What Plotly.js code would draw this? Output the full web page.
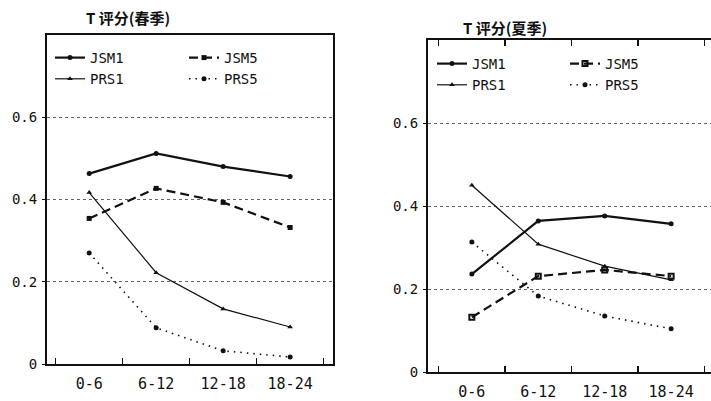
<!DOCTYPE html>
<html><head><meta charset="utf-8">
<script src="https://cdn.plot.ly/plotly-3.0.1.min.js"></script>
<style>html,body{margin:0;padding:0;background:#fff}#c{width:711px;height:401px}</style>
</head><body><div id="c"></div>
<script>
const categories = ["0-6", "6-12", "12-18", "18-24"];
const seriesNames = ["JSM1", "JSM5", "PRS1", "PRS5"];
// Spring (春季)
const springJSM1 = [0.463, 0.512, 0.480, 0.456];
const springJSM5 = [0.354, 0.427, 0.393, 0.332];
const springPRS1 = [0.417, 0.222, 0.134, 0.090];
const springPRS5 = [0.270, 0.088, 0.032, 0.017];
// Summer (夏季)
const summerJSM1 = [0.236, 0.364, 0.376, 0.357];
const summerJSM5 = [0.132, 0.231, 0.246, 0.231];
const summerPRS1 = [0.450, 0.308, 0.255, 0.222];
const summerPRS5 = [0.313, 0.183, 0.135, 0.104];
const yTickVals = [0, 0.2, 0.4, 0.6];
const yTickText = ["0", "0.2", "0.4", "0.6"];
const titles = ["T 评分(春季)", "T 评分(夏季)"];

const styles = {
  JSM1: {line: {color: "#111", width: 2.2, dash: "solid"}, marker: {symbol: "circle", size: 5, color: "#111"}},
  JSM5: {line: {color: "#111", width: 2.2, dash: "9px,5px"}, marker: {symbol: "square", size: 5, color: "#111"}},
  PRS1: {line: {color: "#111", width: 1.2, dash: "solid"}, marker: {symbol: "triangle-up", size: 5, color: "#111"}},
  PRS5: {line: {color: "#111", width: 1.6, dash: "1.5px,5px"}, marker: {symbol: "circle", size: 5, color: "#111"}}
};
const legendOf = {JSM1: "a", JSM5: "b", PRS1: "a", PRS5: "b"};

function mk(name, ys, xa, ya, side) {
  const lg = side === "L" ? (legendOf[name] === "a" ? "legend" : "legend2")
                          : (legendOf[name] === "a" ? "legend3" : "legend4");
  const st = styles[name];
  let marker = Object.assign({}, st.marker);
  if (side === "R" && name === "JSM5") marker = {symbol: "square-open", size: 5, color: "#111", line: {width: 2, color: "#111"}};
  return {x: categories, y: ys, name: name, type: "scatter", mode: "lines+markers",
          xaxis: xa, yaxis: ya, line: st.line, marker: marker, legend: lg};
}

const data = [
  mk("JSM1", springJSM1, "x", "y", "L"),
  mk("PRS1", springPRS1, "x", "y", "L"),
  mk("JSM5", springJSM5, "x", "y", "L"),
  mk("PRS5", springPRS5, "x", "y", "L"),
  mk("JSM1", summerJSM1, "x2", "y2", "R"),
  mk("PRS1", summerPRS1, "x2", "y2", "R"),
  mk("JSM5", summerJSM5, "x2", "y2", "R"),
  mk("PRS5", summerPRS5, "x2", "y2", "R")
];

const yFont = {family: "DejaVu Sans Mono, monospace", size: 14, color: "#111"};
const xFont = {family: "DejaVu Sans Mono, monospace", size: 15, color: "#111"};
const legFont = {family: "DejaVu Sans Mono, monospace", size: 14, color: "#111"};
function xax(domain, range, mirror) {
  return {domain: domain, range: range, type: "category", tickson: "boundaries",
    ticks: "inside", ticklen: 6, tickwidth: 1.5, tickcolor: "#111",
    showline: true, linewidth: 2, linecolor: "#111", mirror: mirror,
    showgrid: false, zeroline: false, tickfont: xFont, ticklabelstandoff: 5, fixedrange: true};
}
function yax(domain, anchor, mirror) {
  return {domain: domain, range: [0, 0.8], anchor: anchor, tickvals: yTickVals, ticktext: yTickText,
    ticks: "outside", ticklen: 3, tickcolor: "#111",
    showline: true, linewidth: 2, linecolor: "#111", mirror: mirror,
    showgrid: true, gridcolor: "#666", griddash: "dot", gridwidth: 1,
    zeroline: false, tickfont: yFont, ticklabelstandoff: 2, fixedrange: true};
}
function leg(x, y) {
  return {x: x, y: y, xref: "paper", yref: "paper", xanchor: "left", yanchor: "top",
    bgcolor: "rgba(0,0,0,0)", borderwidth: 0, font: legFont, itemwidth: 30, tracegroupgap: 0};
}

const layout = {
  width: 711, height: 401,
  margin: {l: 0, r: 0, t: 0, b: 0},
  paper_bgcolor: "#fff", plot_bgcolor: "#fff",
  showlegend: true,
  xaxis: Object.assign(xax([47/711, 333/711], [-0.63, 3.64], true), {anchor: "y"}),
  yaxis: yax([1 - 364/401, 1 - 35/401], "x", true),
  xaxis2: Object.assign(xax([428/711, 1], [-0.66, 3.6], "ticks"), {anchor: "y2"}),
  yaxis2: yax([1 - 372/401, 1 - 40/401], "x2", false),
  legend: leg(50/711, 1 - 42/401),
  legend2: leg(184/711, 1 - 42/401),
  legend3: leg(432/711, 1 - 48/401),
  legend4: leg(565/711, 1 - 48/401),
  annotations: [
    {text: "<b>" + titles[0] + "</b>", x: 128/711, y: 1 - 17/401, xref: "paper", yref: "paper",
     xanchor: "center", yanchor: "middle",
     showarrow: false, font: {family: "Noto Sans CJK SC", size: 15, color: "#111"}},
    {text: "<b>" + titles[1] + "</b>", x: 505/711, y: 1 - 27/401, xref: "paper", yref: "paper",
     xanchor: "center", yanchor: "middle",
     showarrow: false, font: {family: "Noto Sans CJK SC", size: 15, color: "#111"}}
  ]
};

Plotly.newPlot("c", data, layout, {displayModeBar: false, staticPlot: true});
</script>
</body></html>
